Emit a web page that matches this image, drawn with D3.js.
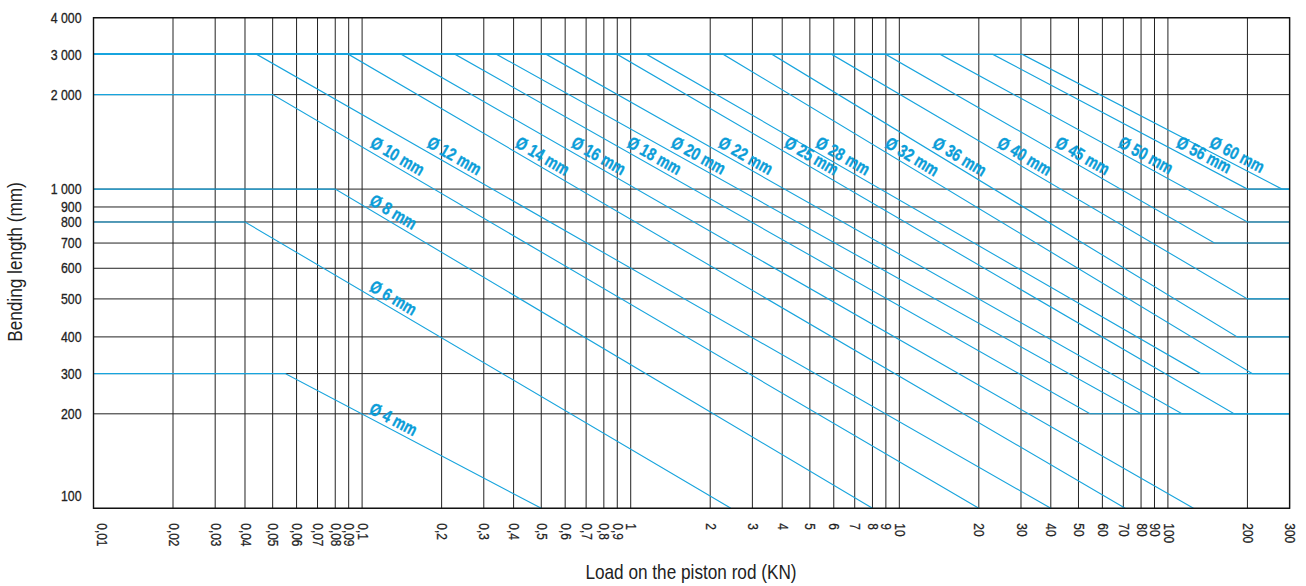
<!DOCTYPE html>
<html>
<head>
<meta charset="utf-8">
<script src="https://cdn.jsdelivr.net/npm/d3@7"></script>
<style>
  body { margin: 0; background: #fff; }
  svg text { font-family: 'Liberation Sans', Arial, sans-serif; }
</style>
</head>
<body>
<svg id="chart"></svg>
<script>
/* global d3 */
const width = 1306
const height = 586
const margin = { top: 17.7, right: 16.4, bottom: 77.7, left: 93.5 }

// axis ticks
const loadTicks = [0.01, 0.02, 0.03, 0.04, 0.05, 0.06, 0.07, 0.08, 0.09,
  0.1, 0.2, 0.3, 0.4, 0.5, 0.6, 0.7, 0.8, 0.9,
  1, 2, 3, 4, 5, 6, 7, 8, 9,
  10, 20, 30, 40, 50, 60, 70, 80, 90,
  100, 200, 300]
const loadLabels = ['0,01', '0,02', '0,03', '0,04', '0,05', '0,06', '0,07', '0,08', '0,09',
  '0,1', '0,2', '0,3', '0,4', '0,5', '0,6', '0,7', '0,8', '0,9',
  '1', '2', '3', '4', '5', '6', '7', '8', '9',
  '10', '20', '30', '40', '50', '60', '70', '80', '90',
  '100', '200', '300']
const lengthTicks = [100, 200, 300, 400, 500, 600, 700, 800, 900, 1000, 2000, 3000, 4000]
const lengthLabels = ['100', '200', '300', '400', '500', '600', '700', '800', '900',
  '1 000', '2 000', '3 000', '4 000']

// one line per rod diameter: flat at max length, then falling, then flat at min length
const diameters = [4, 6, 8, 10, 12, 14, 16, 18, 20, 22, 25, 28, 32, 36, 40, 45, 50, 56, 60]
const maxLength = [300, 800, 1000, 2000, 3000, 3000, 3000, 3000, 3000, 3000,
  3000, 3000, 3000, 3000, 3000, 3000, 3000, 3000, 3000]
const loadAtMax = [0.055, 0.04, 0.08, 0.05, 0.044, 0.09, 0.141, 0.228, 0.34, 0.52,
  0.9, 1.15, 2.27, 3.63, 5.91, 9, 14.3, 22.9, 30.4]
const minLength = [100, 100, 100, 100, 100, 100, 100, 200, 200, 200,
  200, 300, 300, 400, 500, 700, 800, 1000, 1000]
const loadAtMin = [0.5, 2.44, 8, 20, 40, 71, 125, 54.6, 80, 113,
  178, 133, 210, 183, 200, 150, 200, 200, 279]

const blue = '#17a4dd'
const labelBlue = '#0b9dd8'
const ink = '#222'

// the printed grid splits each decade unevenly, so the scales follow it
const xSplit = [0, 0.296, 0.453, 0.564, 0.667, 0.756, 0.834, 0.9, 0.95]
const ySplit = [0, 0.296, 0.422, 0.537, 0.656, 0.752, 0.831, 0.897, 0.944]
const decadePos = (v, split) => {
  const e = Math.floor(Math.log10(v) + 1e-9)
  return e + split[Math.round(v / Math.pow(10, e)) - 1]
}

const xDecades = d3.scaleLinear()
  .domain([decadePos(loadTicks[0], xSplit), decadePos(loadTicks[loadTicks.length - 1], xSplit)])
  .range([margin.left, width - margin.right])
const yDecades = d3.scaleLinear()
  .domain([decadePos(lengthTicks[0], ySplit), decadePos(lengthTicks[lengthTicks.length - 1], ySplit)])
  .range([height - margin.bottom, margin.top])

const xScale = d3.scaleLog()
  .domain(loadTicks)
  .range(loadTicks.map(v => xDecades(decadePos(v, xSplit))))
const yScale = d3.scaleLog()
  .domain(lengthTicks)
  .range(lengthTicks.map(v => yDecades(decadePos(v, ySplit))))

const xMin = loadTicks[0]
const xMax = loadTicks[loadTicks.length - 1]
const yMin = lengthTicks[0]
const yMax = lengthTicks[lengthTicks.length - 1]

// no narrow font installed: squeeze the text horizontally instead
const squeeze = (sel, sx) => sel.each(function () {
  const t = d3.select(this)
  const x = +t.attr('x') || 0
  const y = +t.attr('y') || 0
  const pre = t.attr('transform') || ''
  t.attr('transform', `${pre} translate(${x},${y}) scale(${sx},1)`)
    .attr('x', 0)
    .attr('y', 0)
})

const svg = d3.select('#chart')
  .attr('width', width)
  .attr('height', height)

/** grid */
const grid = svg.append('g')
grid.selectAll('.vgrid')
  .data(loadTicks)
  .enter()
  .append('line')
  .attr('x1', d => xScale(d))
  .attr('x2', d => xScale(d))
  .attr('y1', yScale(yMax))
  .attr('y2', yScale(yMin))
  .attr('stroke', ink)
  .attr('stroke-width', 1)
grid.selectAll('.hgrid')
  .data(lengthTicks)
  .enter()
  .append('line')
  .attr('x1', xScale(xMin))
  .attr('x2', xScale(xMax))
  .attr('y1', d => yScale(d))
  .attr('y2', d => yScale(d))
  .attr('stroke', ink)
  .attr('stroke-width', 1)

/** rod lines */
const rods = diameters.map((d, i) => {
  const pts = [[xMin, maxLength[i]], [loadAtMax[i], maxLength[i]], [loadAtMin[i], minLength[i]]]
  if (minLength[i] > yMin) pts.push([xMax, minLength[i]])
  return { d, i, pts }
})

const line = d3.line()
  .x(p => xScale(p[0]))
  .y(p => yScale(p[1]))

svg.append('g')
  .selectAll('path')
  .data(rods)
  .enter()
  .append('path')
  .attr('d', r => line(r.pts))
  .attr('fill', 'none')
  .attr('stroke', blue)
  .attr('stroke-width', 1.1)

/** frame */
svg.append('rect')
  .attr('x', xScale(xMin))
  .attr('y', yScale(yMax))
  .attr('width', xScale(xMax) - xScale(xMin))
  .attr('height', yScale(yMin) - yScale(yMax))
  .attr('fill', 'none')
  .attr('stroke', '#111')
  .attr('stroke-width', 1.4)

/** rod labels, laid along the falling part of each line */
const labelLoad = 0.1 // labels never start left of this gridline
const labelLength = 1334 // nor above this length
const rodLabels = svg.append('g')
  .selectAll('text')
  .data(rods)
  .enter()
  .append('text')
  .attr('transform', r => {
    const i = r.i
    const x1 = xScale(loadAtMax[i])
    const y1 = yScale(maxLength[i])
    const x2 = xScale(loadAtMin[i])
    const y2 = yScale(minLength[i])
    const tx = (xScale(labelLoad) + 4 - x1) / (x2 - x1)
    const ty = (yScale(labelLength) - y1) / (y2 - y1)
    const t = Math.max(tx, ty, 0)
    const angle = Math.atan2(y2 - y1, x2 - x1) * 180 / Math.PI
    return `translate(${x1 + t * (x2 - x1)},${y1 + t * (y2 - y1)}) rotate(${angle})`
  })
  .attr('y', -4)
  .attr('fill', labelBlue)
  .attr('stroke', labelBlue)
  .attr('stroke-width', 0.35)
  .attr('font-size', 17.5)
  .attr('font-weight', 'bold')
  .text(r => `Ø ${r.d} mm`)
squeeze(rodLabels, 0.8)

/** axes */
const xAxis = d3.axisBottom(xScale)
  .tickValues(loadTicks)
  .tickFormat((d, i) => loadLabels[i])
  .tickSize(0)

const gx = svg.append('g')
  .attr('transform', `translate(0, ${yScale(yMin)})`)
  .call(xAxis)
gx.select('.domain').remove()
const xText = gx.selectAll('text')
  .attr('transform', 'rotate(90)')
  .attr('text-anchor', 'start')
  .attr('x', 15)
  .attr('y', (d, i) => (i === 0 ? -8 : 0))
  .attr('dy', '0.35em')
  .attr('font-size', 14)
  .attr('font-family', null)
  .attr('fill', ink)
  .attr('stroke', ink)
  .attr('stroke-width', 0.25)
squeeze(xText, 0.85)

const yAxis = d3.axisLeft(yScale)
  .tickValues(lengthTicks)
  .tickFormat((d, i) => lengthLabels[i])
  .tickSize(0)
  .tickPadding(12)

const gy = svg.append('g')
  .attr('transform', `translate(${xScale(xMin)}, 0)`)
  .call(yAxis)
gy.select('.domain').remove()
const yText = gy.selectAll('text')
  .attr('y', (d, i) => (i === 0 ? -12 : 0))
  .attr('font-size', 14.5)
  .attr('font-family', null)
  .attr('fill', ink)
  .attr('stroke', ink)
  .attr('stroke-width', 0.3)
squeeze(yText, 0.85)

/** titles */
svg.append('text')
  .attr('transform', 'translate(691, 579) scale(0.86, 1)')
  .attr('text-anchor', 'middle')
  .attr('font-size', 20)
  .attr('fill', ink)
  .text('Load on the piston rod (KN)')

svg.append('text')
  .attr('transform', 'translate(22, 262) rotate(-90) scale(0.86, 1)')
  .attr('text-anchor', 'middle')
  .attr('font-size', 20)
  .attr('fill', ink)
  .text('Bending length (mm)')
</script>
</body>
</html>
